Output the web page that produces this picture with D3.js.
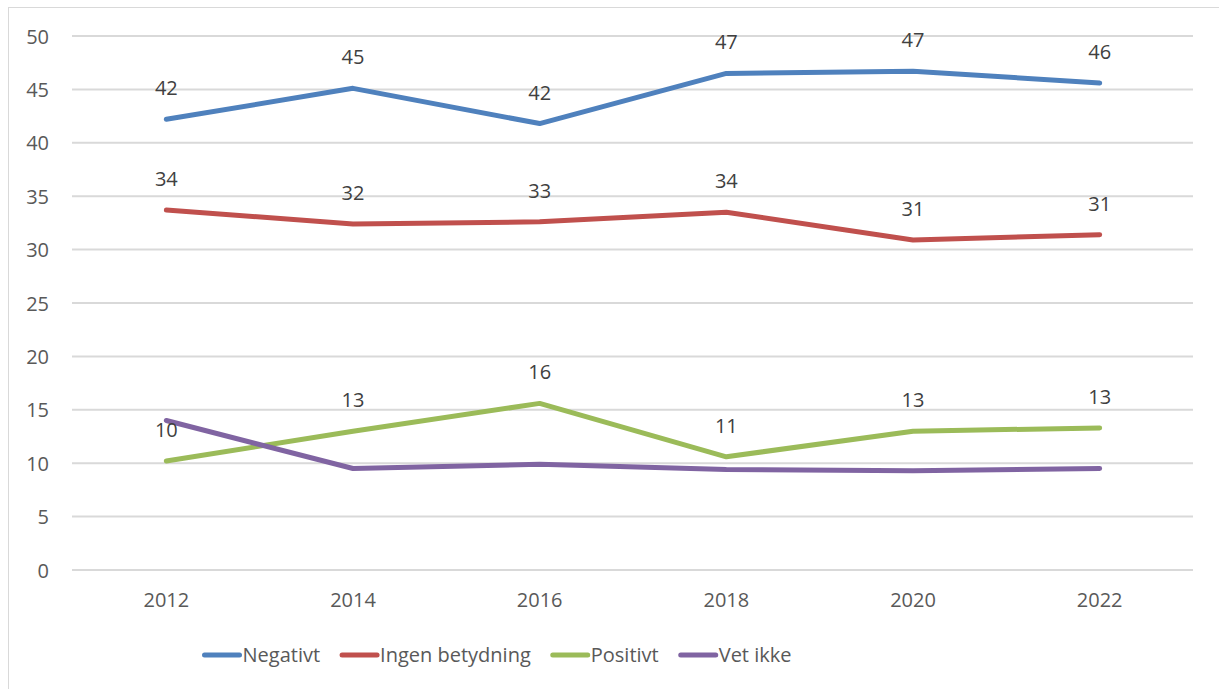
<!DOCTYPE html>
<html>
<head>
<meta charset="utf-8">
<script src="https://cdn.jsdelivr.net/npm/d3@7"></script>
<style>
  body { margin: 0; background: #fff; }
  svg { font-family: "Open Sans", "Noto Sans", sans-serif; }
</style>
</head>
<body>
<svg id="chart" width="1219" height="689"></svg>
<script>
// data
var years = ["2012", "2014", "2016", "2018", "2020", "2022"];
var negativt = [42.2, 45.1, 41.8, 46.5, 46.7, 45.6];
var ingenBetydning = [33.7, 32.4, 32.6, 33.5, 30.9, 31.4];
var positivt = [10.2, 13.0, 15.6, 10.6, 13.0, 13.3];
var vetIkke = [14.0, 9.5, 9.9, 9.4, 9.3, 9.5];
var yTicks = [0, 5, 10, 15, 20, 25, 30, 35, 40, 45, 50];

var series = [
  { name: "Negativt", values: negativt, color: "#4f81bd", labels: true },
  { name: "Ingen betydning", values: ingenBetydning, color: "#c0504d", labels: true },
  { name: "Positivt", values: positivt, color: "#9bbb59", labels: true },
  { name: "Vet ikke", values: vetIkke, color: "#8064a2", labels: false }
];

var svg = d3.select("#chart"),
    width = +svg.attr("width"),
    height = +svg.attr("height");

var fontSize = "20px";

// frame (only top and left edges visible)
svg.append("line").attr("x1", 8).attr("x2", width).attr("y1", 7.5).attr("y2", 7.5)
  .attr("stroke", "#d9d9d9").attr("stroke-width", 1);
svg.append("line").attr("x1", 8.5).attr("x2", 8.5).attr("y1", 7).attr("y2", height)
  .attr("stroke", "#d9d9d9").attr("stroke-width", 1);

var x = d3.scaleBand().domain(years).range([73, 1193]);
var y = d3.scaleLinear().domain([0, 50]).range([570, 36]);

// gridlines
svg.append("g")
  .selectAll("line")
  .data(yTicks)
  .enter().append("line")
  .attr("x1", 72).attr("x2", 1193)
  .attr("y1", function(d) { return y(d); })
  .attr("y2", function(d) { return y(d); })
  .attr("stroke", "#d9d9d9")
  .attr("stroke-width", 2);

// y axis
var yAxis = svg.append("g")
  .attr("transform", "translate(49,0)")
  .call(d3.axisLeft(y).tickValues(yTicks).tickSize(0).tickPadding(0))
  .attr("font-family", null);
yAxis.select(".domain").remove();
yAxis.selectAll("text")
  .attr("fill", "#595959").style("font-size", fontSize)
  .attr("dy", "0.35em");

// x axis
var xAxis = svg.append("g")
  .attr("transform", "translate(0,600)")
  .call(d3.axisBottom(x).tickSize(0).tickPadding(0))
  .attr("font-family", null);
xAxis.select(".domain").remove();
xAxis.selectAll("text")
  .attr("fill", "#595959").style("font-size", fontSize)
  .attr("dy", "0.35em");

var cx = function(i) { return x(years[i]) + x.bandwidth() / 2; };

var line = d3.line()
  .x(function(d, i) { return cx(i); })
  .y(function(d) { return y(d); });

svg.append("g")
  .selectAll("path")
  .data(series)
  .enter().append("path")
  .attr("d", function(s) { return line(s.values); })
  .attr("fill", "none")
  .attr("stroke", function(s) { return s.color; })
  .attr("stroke-width", 5)
  .attr("stroke-linecap", "round")
  .attr("stroke-linejoin", "round");

// data labels
series.filter(function(s) { return s.labels; }).forEach(function(s) {
  svg.append("g")
    .selectAll("text")
    .data(s.values)
    .enter().append("text")
    .attr("x", function(d, i) { return cx(i); })
    .attr("y", function(d) { return y(d) - 31; })
    .attr("dy", "0.35em")
    .attr("text-anchor", "middle")
    .attr("fill", "#404040")
    .style("font-size", fontSize)
    .text(function(d) { return Math.round(d); });
});

// legend, laid out from measured text widths and centred like the original
var legend = svg.append("g").attr("transform", "translate(0,655)");
var items = legend.selectAll("g")
  .data(series)
  .enter().append("g");

items.append("line")
  .attr("x1", 2).attr("x2", 37)
  .attr("stroke", function(d) { return d.color; })
  .attr("stroke-width", 5)
  .attr("stroke-linecap", "round");

items.append("text")
  .attr("x", 40)
  .attr("dy", "0.35em")
  .attr("fill", "#595959")
  .style("font-size", fontSize)
  .text(function(d) { return d.name; });

var offsets = [], pos = 0;
items.each(function() {
  offsets.push(pos);
  pos += 40 + this.querySelector("text").getComputedTextLength() + 20;
});
var total = pos - 20;
var start = 497 - total / 2;
items.attr("transform", function(d, i) { return "translate(" + (start + offsets[i]) + ",0)"; });
</script>
</body>
</html>
